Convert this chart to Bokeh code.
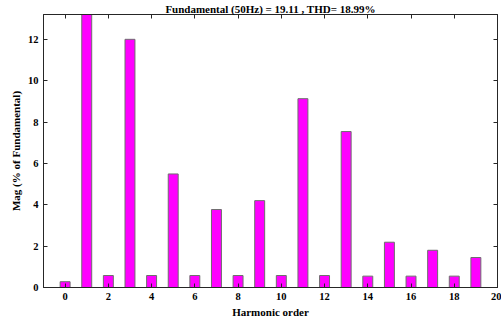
from bokeh.plotting import figure
from bokeh.models import Range1d, LinearAxis, FixedTicker
from bokeh.embed import file_html
from bokeh.resources import INLINE

harmonic_order = list(range(20))
magnitude = [0.28, 100.0, 0.58, 12.0, 0.58, 5.49, 0.58, 3.77, 0.58, 4.2,
             0.58, 9.13, 0.58, 7.54, 0.55, 2.19, 0.55, 1.8, 0.55, 1.45]
x_ticks = list(range(0, 21, 2))
y_ticks = list(range(0, 13, 2))
title_text = "Fundamental (50Hz) = 19.11 , THD= 18.99%"

FONT = "Liberation Serif"

p = figure(width=501, height=322, output_backend="svg", toolbar_location=None,
           x_range=Range1d(-1, 20), y_range=Range1d(0, 13.2),
           min_border_left=43, min_border_right=4, min_border_top=14, min_border_bottom=35,
           x_axis_location=None, y_axis_location=None)
p.title.text = title_text
p.title.align = "center"
p.title.text_font = FONT
p.title.text_font_style = "bold"
p.title.text_font_size = "11px"
p.title.text_color = "black"
p.title.standoff = 0
p.title.offset = 0

p.vbar(x=harmonic_order, top=magnitude, width=0.46, bottom=0,
       fill_color="#FF00FF", line_color="#6E6E6E", line_width=1)

p.grid.visible = False
p.outline_line_color = "#262626"
p.outline_line_width = 1
p.background_fill_color = "white"
p.border_fill_color = "white"

def style(ax, labels=True):
    ax.major_tick_in = 4
    ax.major_tick_out = 0
    ax.minor_tick_in = 0
    ax.minor_tick_out = 0
    ax.axis_line_color = "#262626"
    ax.major_tick_line_color = "#262626"
    if labels:
        ax.major_label_text_font = FONT
        ax.major_label_text_font_style = "bold"
        ax.major_label_text_font_size = "10.5px"
        ax.major_label_text_color = "black"
        ax.axis_label_text_font = FONT
        ax.axis_label_text_font_style = "bold"
        ax.axis_label_text_font_size = "11px"
        ax.axis_label_text_color = "black"
        ax.major_label_standoff = 5
        ax.axis_label_standoff = 3
    else:
        ax.major_label_text_font_size = "0px"
        ax.major_label_text_color = None

bottom = LinearAxis(ticker=FixedTicker(ticks=x_ticks), axis_label="Harmonic order")
style(bottom)
left = LinearAxis(ticker=FixedTicker(ticks=y_ticks), axis_label="Mag (% of Fundamental)")
style(left)
top = LinearAxis(ticker=FixedTicker(ticks=x_ticks))
style(top, labels=False)
right = LinearAxis(ticker=FixedTicker(ticks=y_ticks))
style(right, labels=False)

p.add_layout(bottom, "below")
p.add_layout(left, "left")
p.add_layout(top, "above")
p.add_layout(right, "right")

open("out.html", "w").write(file_html(p, INLINE))
